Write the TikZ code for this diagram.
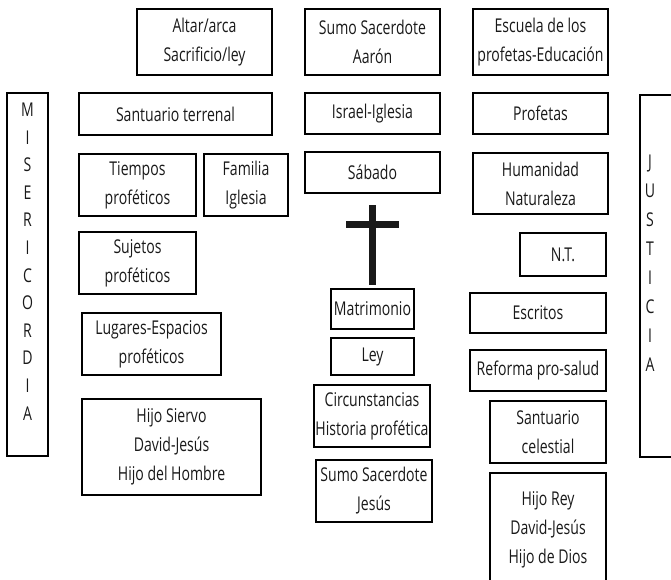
\documentclass[tikz,border=0pt]{standalone}
\usepackage{fontspec}
\setmainfont{Open Sans}[FakeStretch=0.74]
\begin{document}
\begin{tikzpicture}[x=1pt,y=-1pt,
  bx/.style={draw, line width=1.2pt, inner sep=0pt, align=center,
    font=\fontsize{19}{29}\selectfont, text=black!90},
  vtext/.style={inner sep=0pt, align=center, text=black!90}]
\useasboundingbox (0,0) rectangle (671,580);
\clip (0,0) rectangle (671,580);
\newcommand\bx[6]{\node[bx, minimum width={(#4-#2)*1pt}, minimum height={(#5-#3)*1pt}]
  (#1) at ({(#2+#4)/2},{(#3+#5)/2}) {#6};}
\bx{altar}{137}{9}{272}{75}{Altar/arca\\Sacrificio/ley}
\bx{aaron}{305}{9}{440}{75}{Sumo Sacerdote\\Aarón}
\bx{escuela}{473}{9}{608}{75}{Escuela de los\\profetas-Educación}
\bx{terrenal}{79}{93}{272}{135}{Santuario terrenal}
\bx{israel}{305}{93}{440}{134}{Israel-Iglesia}
\bx{profetas}{473}{93}{608}{134}{Profetas}
\bx{tiempos}{79}{154}{196}{216}{Tiempos\\proféticos}
\bx{familia}{204}{154}{288}{216}{Familia\\Iglesia}
\bx{sabado}{305}{152}{440}{193}{Sábado}
\bx{humanidad}{473}{153}{608}{214}{Humanidad\\Naturaleza}
\bx{sujetos}{79}{232}{196}{294}{Sujetos\\proféticos}
\bx{lugares}{82}{313}{221}{375}{Lugares-Espacios\\proféticos}
\bx{nt}{520}{233}{606}{276}{N.T.}
\bx{escritos}{470}{293}{606}{333}{Escritos}
\bx{reforma}{470}{350}{606}{391}{Reforma pro-salud}
\bx{matrimonio}{331}{289}{414}{329}{Matrimonio}
\bx{ley}{331}{338}{414}{375}{Ley}
\bx{circun}{314}{385}{430}{447}{Circunstancias\\Historia profética}
\bx{sumojesus}{316}{460}{432}{522}{Sumo Sacerdote\\Jesús}
\bx{siervo}{82}{399}{261}{495}{Hijo Siervo\\David-Jesús\\Hijo del Hombre}
\bx{santcel}{490}{401}{606}{463}{Santuario\\celestial}
\bx{hijorey}{490}{473}{606}{587}{Hijo Rey\\David-Jesús\\Hijo de Dios}
% side boxes
\draw[line width=1.2pt] (7,93) rectangle (48,456);
\node[vtext, font=\fontsize{19}{27.6}\selectfont] (miseri) at (27.5,261.5)
  {M\\I\\S\\E\\R\\I\\C\\O\\R\\D\\I\\A};
\draw[line width=1.2pt] (640,95) rectangle (690,457);
\node[vtext, font=\fontsize{19}{29}\selectfont] (justicia) at (650,263.5)
  {J\\U\\S\\T\\I\\C\\I\\A};
% cross
\fill[black!90] (369,205) rectangle (376,285);
\fill[black!90] (346,221) rectangle (399,228);
\end{tikzpicture}
\end{document}
